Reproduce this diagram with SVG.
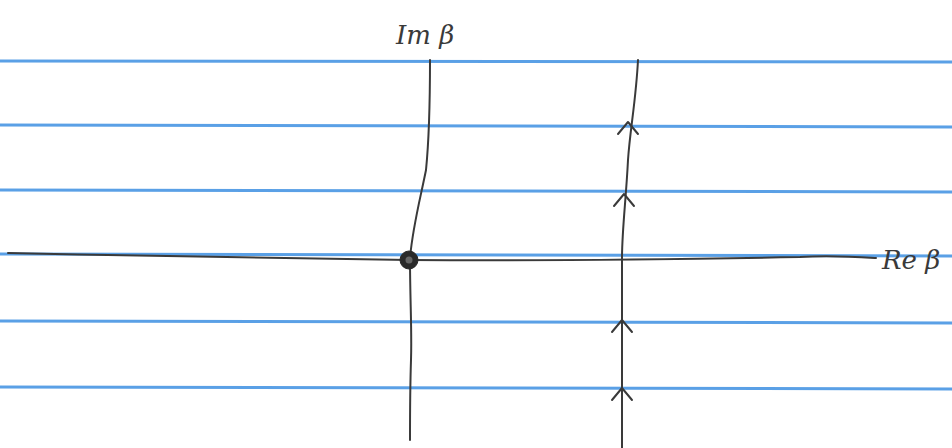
<svg xmlns="http://www.w3.org/2000/svg" width="952" height="448" viewBox="0 0 952 448">
<style>
.rule{stroke:#5aa0e6;stroke-width:3;fill:none}
.ink{stroke:#3a3a3a;stroke-width:2;fill:none;stroke-linecap:round;stroke-linejoin:round}
.lbl{font-family:"DejaVu Serif",serif;font-style:italic;font-size:26px;fill:#3a3a3a}
</style>
<defs>
<path id="arr" d="M-10,12 L0,0 L10,12" class="ink"/>
</defs>
<rect width="952" height="448" fill="#ffffff"/>
<g id="paper">
<line class="rule" x1="0" y1="61" x2="952" y2="62"/>
<line class="rule" x1="0" y1="125" x2="952" y2="127"/>
<line class="rule" x1="0" y1="190" x2="952" y2="192"/>
<line class="rule" x1="0" y1="254" x2="952" y2="256"/>
<line class="rule" x1="0" y1="321" x2="952" y2="323"/>
<line class="rule" x1="0" y1="387" x2="952" y2="389"/>
</g>
<g id="connectors">
<path id="re-axis" class="ink" d="M8,253 C150,256 300,259 409,260 C550,261 700,259 800,257 C830,255 860,257 876,258"/>
<path id="im-axis" class="ink" d="M430,60 C430,110 428,150 426,170 C420,200 412,230 410,259 C410,300 412,330 411,360 C410,390 410,420 410,440"/>
<path id="contour" class="ink" d="M638,60 C636,100 630,130 628,160 C626,200 622,230 622,258 C622,320 622,380 622,448"/>
<use href="#arr" x="628" y="122"/>
<use href="#arr" x="624" y="194"/>
<use href="#arr" x="622" y="320"/>
<use href="#arr" x="622" y="388"/>
</g>
<g id="origin">
<circle cx="409" cy="260" r="9" fill="#2a2a2a" stroke="#2a2a2a" stroke-width="1"/>
<circle cx="409" cy="260" r="3.5" fill="#666"/>
</g>
<g id="label-im">
<text class="lbl" x="396" y="44">Im β</text>
</g>
<g id="label-re">
<text class="lbl" x="882" y="269">Re β</text>
</g>
</svg>
